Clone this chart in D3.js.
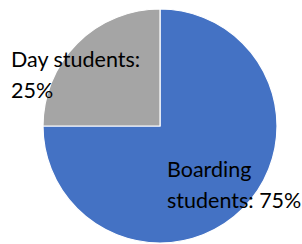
<!DOCTYPE html>
<html>
<head>
<meta charset="utf-8">
<script src="https://cdn.jsdelivr.net/npm/d3@7"></script>
<style>
  html, body { margin: 0; padding: 0; background: #fff; }
  svg { display: block; }
</style>
</head>
<body>
<script>
var width = 302;
var height = 244;

var categories = ["Boarding students", "Day students"];
var shares = [75, 25];
var colors = ["#4472C4", "#A5A5A5"];

var cx = 160, cy = 126, radius = 117;

var svg = d3.select("body")
            .append("svg")
            .attr("width", width)
            .attr("height", height);

var pie = d3.pie().sort(null).value(function(d) { return d; });
var arc = d3.arc().innerRadius(0).outerRadius(radius);
var slices = pie(shares);

var g = svg.append("g").attr("transform", "translate(" + cx + "," + cy + ")");

g.selectAll("path")
  .data(slices)
  .enter().append("path")
  .attr("d", arc)
  .attr("fill", function(d, i) { return colors[i]; })
  .attr("stroke", "#fff")
  .attr("stroke-width", 1.2);

// label placement, two lines each
var labelLines = [
  ["Boarding", "students: " + shares[0] + "%"],
  [categories[1] + ":", shares[1] + "%"]
];
var labelPos = [[7, 51], [-149, -59]]; // offsets from centre, first baseline

g.selectAll("text.lbl")
  .data(slices)
  .enter().append("text")
  .attr("class", "lbl")
  .attr("x", function(d, i) { return labelPos[i][0]; })
  .attr("y", function(d, i) { return labelPos[i][1]; })
  .attr("font-family", "Lato, sans-serif")
  .attr("font-size", 21.5)
  .attr("fill", "#000")
  .each(function(d, i) {
    var t = d3.select(this);
    labelLines[i].forEach(function(line, j) {
      t.append("tspan")
        .attr("x", labelPos[i][0])
        .attr("dy", j === 0 ? 0 : 31)
        .text(line);
    });
  });
</script>
</body>
</html>
